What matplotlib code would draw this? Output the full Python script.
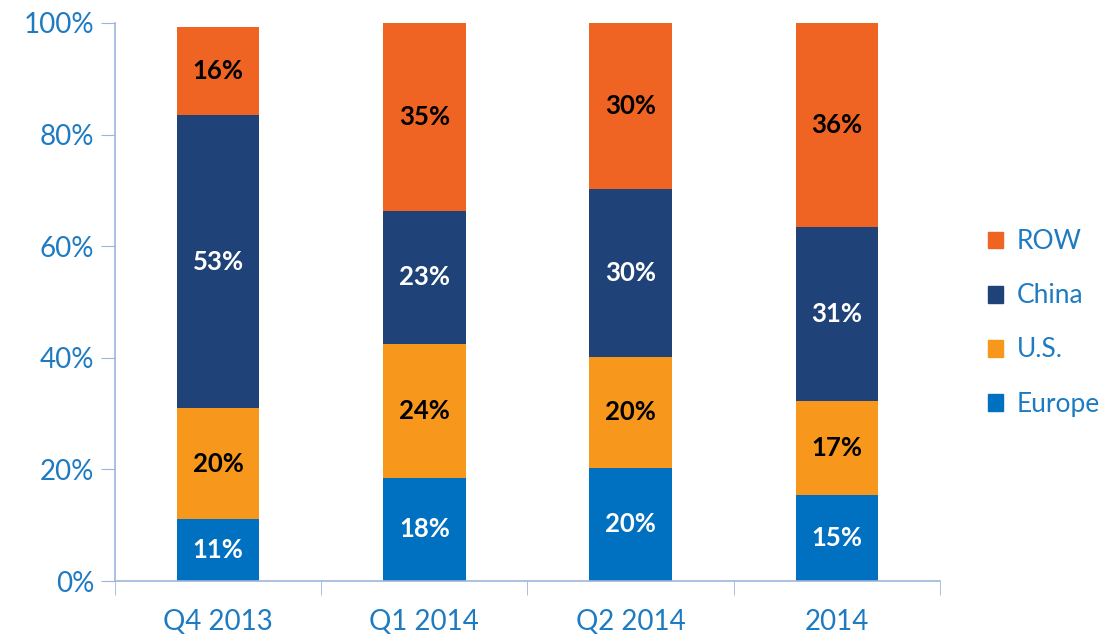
import matplotlib
matplotlib.use("Agg")
import matplotlib.pyplot as plt
from matplotlib.patches import Patch
import numpy as np

categories = ["Q4 2013", "Q1 2014", "Q2 2014", "2014"]
series = ["Europe", "U.S.", "China", "ROW"]
europe = [11.1, 18.5, 20.3, 15.4]
us = [19.9, 24.0, 19.9, 16.9]
china = [52.5, 23.8, 30.0, 31.2]
row = [15.8, 33.7, 29.8, 36.5]
labels_europe = ["11%", "18%", "20%", "15%"]
labels_us = ["20%", "24%", "20%", "17%"]
labels_china = ["53%", "23%", "30%", "31%"]
labels_row = ["16%", "35%", "30%", "36%"]
yticks = [0, 20, 40, 60, 80, 100]

colors = ["#0070C0", "#F7981D", "#1F4279", "#EF6423"]
text_colors = ["white", "black", "white", "black"]
tick_color = "#1F7BC1"
axis_color = "#9DB5DC"
font = "Lato"

fig = plt.figure(figsize=(11.04, 6.37), dpi=100)
ax = fig.add_axes([0.1042, 0.0879, 0.7472, 0.876])

x = np.arange(len(categories))
data = [europe, us, china, row]
labels = [labels_europe, labels_us, labels_china, labels_row]
bottom = np.zeros(len(categories))
for vals, labs, c, tc, name in zip(data, labels, colors, text_colors, series):
    ax.bar(x, vals, 0.40, bottom=bottom, color=c, label=name, zorder=2)
    for xi, b, v, lab in zip(x, bottom, vals, labs):
        ax.text(xi, b + v / 2, lab, ha="center", va="center", color=tc,
                fontsize=18.5, fontweight="bold", family=font, zorder=3)
    bottom += np.array(vals)

ax.set_xlim(-0.5, len(categories) - 0.5)
ax.set_ylim(0, 100)
ax.set_yticks(yticks)
ax.set_yticklabels([f"{t}%" for t in yticks], color=tick_color, fontsize=20, family=font)
ax.set_xticks(x)
ax.set_xticklabels(categories, color=tick_color, fontsize=20, family=font)
ax.tick_params(axis="x", length=0, pad=20)
ax.set_xticks(np.arange(-0.5, len(categories)), minor=True)
ax.tick_params(axis="x", which="minor", length=10, color=axis_color, direction="out")
ax.tick_params(axis="y", length=10, color=axis_color, direction="out", pad=5)
for s in ["top", "right"]:
    ax.spines[s].set_visible(False)
for s in ["left", "bottom"]:
    ax.spines[s].set_color(axis_color)
    ax.spines[s].set_linewidth(1.2)

handles = [Patch(color=c, label=n) for c, n in zip(colors, series)][::-1]
leg = fig.legend(handles=handles, loc="center left", bbox_to_anchor=(0.873, 0.493),
                 frameon=False, prop={"family": font, "size": 19},
                 handlelength=0.6, handleheight=0.6, handletextpad=0.5,
                 labelspacing=1.1)
for t in leg.get_texts():
    t.set_color(tick_color)

fig.savefig("out.png", dpi=100)
